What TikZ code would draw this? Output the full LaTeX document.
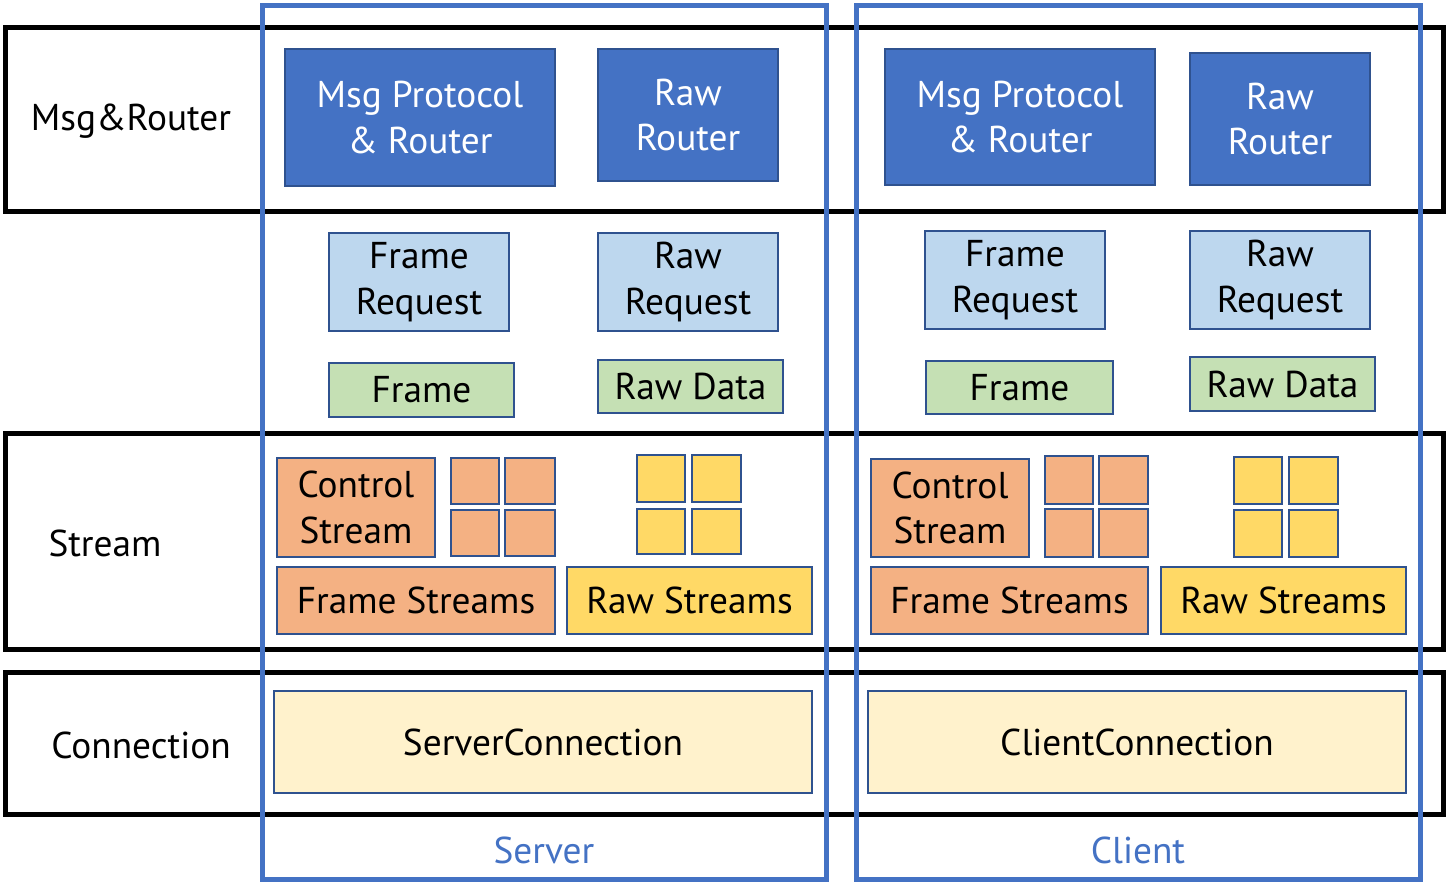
\documentclass[tikz,border=0pt]{standalone}
\usepackage{fontspec}
\setmainfont{PT Sans}

\definecolor{dkblue}{RGB}{68,114,196}
\definecolor{edgeblue}{RGB}{47,82,143}
\definecolor{ltblue}{RGB}{189,215,238}
\definecolor{ltgreen}{RGB}{197,224,180}
\definecolor{orng}{RGB}{244,177,131}
\definecolor{ylw}{RGB}{255,217,102}
\definecolor{paleylw}{RGB}{255,242,204}

\tikzset{every picture/.style={line width=0.75pt}}
\tikzset{
  band/.style={draw=black, line width=3.75pt},
  sideframe/.style={draw=dkblue, line width=3.75pt},
  box/.style={draw=edgeblue, line width=1.5pt},
  lbl/.style={font=\fontsize{28}{34}\selectfont, align=center, inner sep=0pt},
}

\begin{document}
\begin{tikzpicture}[x=0.75pt,y=0.75pt,yscale=-1,xscale=1]
\path [use as bounding box] (0,0) rectangle (1448,894);

%Layer bands
\draw [band] (5,27) rectangle (1443,211.5) ;
\draw [band] (5,433) rectangle (1443,649.5) ;
\draw [band] (5,672.5) rectangle (1443,814.5) ;

% Text Node
\draw (131,121) node [lbl] (lblMsg) {Msg\&Router};
% Text Node
\draw (105,543) node [lbl] (lblStream) {Stream};
% Text Node
\draw (141,745) node [lbl] (lblConn) {Connection};

%Server side
%Shape: Rectangle
\draw [box, fill=dkblue] (285,49) rectangle (555,186) ;
%Shape: Rectangle
\draw [box, fill=dkblue] (598,49) rectangle (778,181) ;
%Shape: Rectangle
\draw [box, fill=ltblue] (329,233) rectangle (509,331) ;
%Shape: Rectangle
\draw [box, fill=ltblue] (598,233) rectangle (778,331) ;
%Shape: Rectangle
\draw [box, fill=ltgreen] (329,363) rectangle (514,417) ;
%Shape: Rectangle
\draw [box, fill=ltgreen] (598,360) rectangle (783,413) ;
%Shape: Rectangle
\draw [box, fill=orng] (277,458) rectangle (435,557) ;
%Shape: Square
\draw [box, fill=orng] (451,458) rectangle (499,504) ;
\draw [box, fill=orng] (505,458) rectangle (555,504) ;
\draw [box, fill=orng] (451,510) rectangle (499,556) ;
\draw [box, fill=orng] (505,510) rectangle (555,556) ;
%Shape: Square
\draw [box, fill=ylw] (637,455) rectangle (685,502) ;
\draw [box, fill=ylw] (692,455) rectangle (741,502) ;
\draw [box, fill=ylw] (637,509) rectangle (685,554) ;
\draw [box, fill=ylw] (692,509) rectangle (741,554) ;
%Shape: Rectangle
\draw [box, fill=orng] (277,567) rectangle (555,634) ;
%Shape: Rectangle
\draw [box, fill=ylw] (567,567) rectangle (812,634) ;
%Shape: Rectangle
\draw [box, fill=paleylw] (274,691) rectangle (812,793) ;

% Text Node
\draw (420,117.5) node [lbl, text=white] (srvMsgRouter) {Msg Protocol\\\& Router};
% Text Node
\draw (688,115) node [lbl, text=white] (srvRawRouter) {Raw\\Router};
% Text Node
\draw (419,282) node [lbl] (srvFrameReq) {Frame\\Request};
% Text Node
\draw (688,282) node [lbl] (srvRawReq) {Raw\\Request};
% Text Node
\draw (421.5,390) node [lbl] (srvFrame) {Frame};
% Text Node
\draw (690.5,386.5) node [lbl] (srvRawData) {Raw Data};
% Text Node
\draw (356,507.5) node [lbl] (srvCtrl) {Control\\Stream};
% Text Node
\draw (416,600.5) node [lbl] (srvFrameStreams) {Frame Streams};
% Text Node
\draw (689.5,600.5) node [lbl] (srvRawStreams) {Raw Streams};
% Text Node
\draw (543,742) node [lbl] (srvConn) {ServerConnection};
% Text Node
\draw (544,850) node [lbl, text=dkblue] (srvName) {Server};

%Client side
%Shape: Rectangle
\draw [box, fill=dkblue] (885,49) rectangle (1155,185) ;
%Shape: Rectangle
\draw [box, fill=dkblue] (1190,53) rectangle (1370,185) ;
%Shape: Rectangle
\draw [box, fill=ltblue] (925,231) rectangle (1105,329) ;
%Shape: Rectangle
\draw [box, fill=ltblue] (1190,231) rectangle (1370,329) ;
%Shape: Rectangle
\draw [box, fill=ltgreen] (926,361) rectangle (1113,414) ;
%Shape: Rectangle
\draw [box, fill=ltgreen] (1190,357) rectangle (1375,411) ;
%Shape: Rectangle
\draw [box, fill=orng] (871,459) rectangle (1029,557) ;
%Shape: Square
\draw [box, fill=orng] (1045,456) rectangle (1093,504) ;
\draw [box, fill=orng] (1099,456) rectangle (1148,504) ;
\draw [box, fill=orng] (1045,509) rectangle (1093,557) ;
\draw [box, fill=orng] (1099,509) rectangle (1148,557) ;
%Shape: Square
\draw [box, fill=ylw] (1234,457) rectangle (1282,504) ;
\draw [box, fill=ylw] (1289,457) rectangle (1338,504) ;
\draw [box, fill=ylw] (1234,510) rectangle (1282,557) ;
\draw [box, fill=ylw] (1289,510) rectangle (1338,557) ;
%Shape: Rectangle
\draw [box, fill=orng] (871,567) rectangle (1148,634) ;
%Shape: Rectangle
\draw [box, fill=ylw] (1161,567) rectangle (1406,634) ;
%Shape: Rectangle
\draw [box, fill=paleylw] (868,691) rectangle (1406,793) ;

% Text Node
\draw (1020,117) node [lbl, text=white] (cliMsgRouter) {Msg Protocol\\\& Router};
% Text Node
\draw (1280,119) node [lbl, text=white] (cliRawRouter) {Raw\\Router};
% Text Node
\draw (1015,280) node [lbl] (cliFrameReq) {Frame\\Request};
% Text Node
\draw (1280,280) node [lbl] (cliRawReq) {Raw\\Request};
% Text Node
\draw (1019.5,387.5) node [lbl] (cliFrame) {Frame};
% Text Node
\draw (1282.5,384) node [lbl] (cliRawData) {Raw Data};
% Text Node
\draw (950,508) node [lbl] (cliCtrl) {Control\\Stream};
% Text Node
\draw (1009.5,600.5) node [lbl] (cliFrameStreams) {Frame Streams};
% Text Node
\draw (1283.5,600.5) node [lbl] (cliRawStreams) {Raw Streams};
% Text Node
\draw (1137,742) node [lbl] (cliConn) {ClientConnection};
% Text Node
\draw (1138,850) node [lbl, text=dkblue] (cliName) {Client};

%Server and Client frames
\draw [sideframe] (262,5) rectangle (826,879) ;
\draw [sideframe] (856,5) rectangle (1420,879) ;

\end{tikzpicture}
\end{document}
